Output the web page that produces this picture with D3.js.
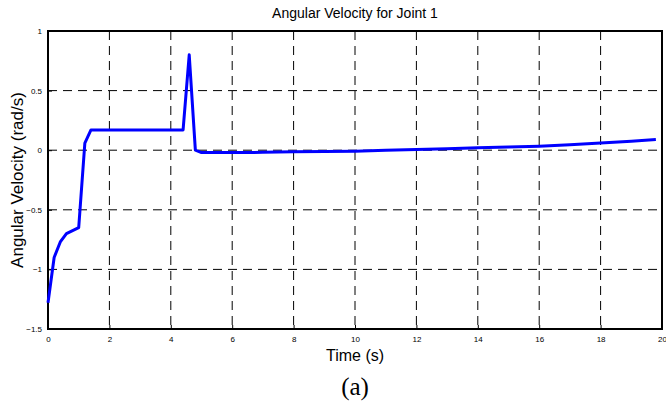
<!DOCTYPE html>
<html>
<head>
<meta charset="utf-8">
<script src="https://cdn.jsdelivr.net/npm/d3@7"></script>
<style>
  body { margin: 0; background: #fff; }
  svg { display: block; font-family: Arial, "Liberation Sans", sans-serif; }
</style>
</head>
<body>
<svg width="666" height="410"></svg>
<script>
// data
const timeVals = [0, 0.2, 0.4, 0.6, 1.0, 1.2, 1.4, 4.4, 4.6, 4.8, 5.0, 6, 7, 8, 9, 10, 11, 12, 13, 14, 15, 16, 17, 18, 19, 19.8];
const velocityVals = [-1.28, -0.9, -0.77, -0.7, -0.65, 0.06, 0.17, 0.17, 0.8, 0.0, -0.02, -0.02, -0.018, -0.014, -0.011, -0.008, 0.0, 0.006, 0.012, 0.02, 0.026, 0.033, 0.045, 0.06, 0.075, 0.09];
const xTicks = [0, 2, 4, 6, 8, 10, 12, 14, 16, 18, 20];
const yTicks = [-1.5, -1, -0.5, 0, 0.5, 1];

const data = timeVals.map((t, i) => ({ t: t, v: velocityVals[i] }));

const margin = { top: 31, right: 4, bottom: 81, left: 48 },
      width = 666 - margin.left - margin.right,
      height = 410 - margin.top - margin.bottom;

const svg = d3.select("svg");
const g = svg.append("g").attr("transform", `translate(${margin.left},${margin.top})`);

const xScale = d3.scaleLinear().domain([0, 20]).range([0, width]);
const yScale = d3.scaleLinear().domain([-1.5, 1]).range([height, 0]);

// grid lines
g.append("g").selectAll("line")
    .data(xTicks.slice(1, -1))
    .enter().append("line")
    .attr("x1", d => xScale(d)).attr("x2", d => xScale(d))
    .attr("y1", 0).attr("y2", height)
    .attr("stroke", "#000").attr("stroke-width", 1)
    .attr("stroke-dasharray", "9,6");

g.append("g").selectAll("line")
    .data(yTicks.slice(1, -1))
    .enter().append("line")
    .attr("x1", 0).attr("x2", width)
    .attr("y1", d => yScale(d)).attr("y2", d => yScale(d))
    .attr("stroke", "#000").attr("stroke-width", 1)
    .attr("stroke-dasharray", "9,6");

// axes (ticks inward like matlab)
const xAxis = g.append("g")
    .attr("transform", `translate(0,${height})`)
    .call(d3.axisBottom(xScale).tickValues(xTicks).tickSize(-4).tickPadding(7).tickFormat(d3.format("")));
const yAxis = g.append("g")
    .call(d3.axisLeft(yScale).tickValues(yTicks).tickSize(-4).tickPadding(6).tickFormat(d3.format("")));
[xAxis, yAxis].forEach(a => {
    a.select(".domain").remove();
    a.selectAll("text").style("font-size", "8px").style("font-family", "Arial, sans-serif").attr("fill", "#000");
});

// box
g.append("rect")
    .attr("x", 0).attr("y", 0)
    .attr("width", width).attr("height", height)
    .attr("fill", "none").attr("stroke", "#000").attr("stroke-width", 2);

// the line
const line = d3.line().x(d => xScale(d.t)).y(d => yScale(d.v));
g.append("path")
    .datum(data)
    .attr("d", line)
    .attr("fill", "none")
    .attr("stroke", "#0000ff")
    .attr("stroke-width", 3)
    .attr("stroke-linejoin", "round");

// titles
svg.append("text")
    .attr("x", margin.left + width / 2).attr("y", 18)
    .attr("text-anchor", "middle")
    .style("font-size", "14px")
    .text("Angular Velocity for Joint 1");

svg.append("text")
    .attr("x", margin.left + width / 2).attr("y", 361)
    .attr("text-anchor", "middle")
    .style("font-size", "16px")
    .text("Time (s)");

svg.append("text")
    .attr("transform", "rotate(-90)")
    .attr("x", -(margin.top + height / 2)).attr("y", 23)
    .attr("text-anchor", "middle")
    .style("font-size", "17px")
    .text("Angular Velocity (rad/s)");

svg.append("text")
    .attr("x", margin.left + width / 2).attr("y", 395)
    .attr("text-anchor", "middle")
    .style("font-family", "'Liberation Serif', 'Times New Roman', serif")
    .style("font-size", "25px")
    .text("(a)");
</script>
</body>
</html>
